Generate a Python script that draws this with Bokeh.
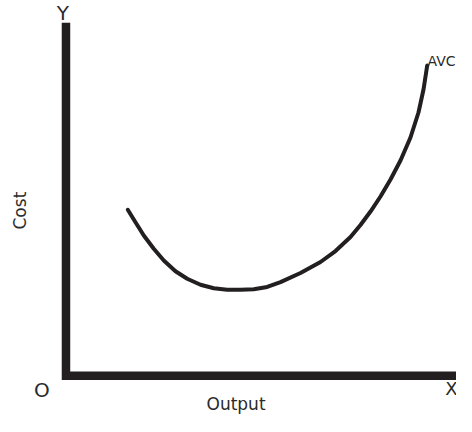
from bokeh.plotting import figure
from bokeh.models import Range1d, Label
from bokeh.embed import file_html
from bokeh.resources import INLINE
import math

# AVC curve (Output vs Cost)
output_vals = [1.585, 1.782, 1.995, 2.251, 2.508, 2.808, 3.108, 3.449, 3.790,
               4.133, 4.474, 4.815, 5.159, 5.500, 6.013, 6.526, 6.910, 7.295,
               7.551, 7.808, 8.064, 8.321, 8.577, 8.833, 9.038, 9.167, 9.262]
avc_vals = [4.703, 4.351, 3.974, 3.598, 3.266, 2.963, 2.748, 2.578, 2.482,
            2.436, 2.436, 2.453, 2.516, 2.652, 2.912, 3.224, 3.535, 3.932,
            4.272, 4.654, 5.079, 5.561, 6.099, 6.751, 7.459, 8.110, 8.790]

# axes frame (L-shape)
axis_x = [0, 0, 10.09]
axis_y = [10.0, 0, 0]

INK = "#231f20"
TXT = "#2b2b2b"
FONT = "DejaVu Sans"

p = figure(width=456, height=416, output_backend="svg", toolbar_location=None,
           x_range=Range1d(-1.679, 10.013), y_range=Range1d(-1.153, 10.632),
           min_border=0)
p.axis.visible = False
p.grid.visible = False
p.outline_line_color = None
p.background_fill_color = "white"
p.border_fill_color = "white"

p.line(axis_x, axis_y, line_width=8.5, line_color=INK, line_join="miter", line_cap="butt")
p.line(output_vals, avc_vals, line_width=4, line_color=INK, line_cap="round", line_join="round")

def lab(x, y, t, size="18px", align="center", angle=0.0):
    p.add_layout(Label(x=x, y=y, text=t, text_font=FONT, text_font_size=size,
                       text_color=TXT, text_align=align, text_baseline="middle",
                       angle=angle))

lab(-0.08, 10.28, "Y", size="20px")
lab(-0.62, -0.39, "O", size="20px")
lab(9.88, -0.37, "X")
lab(9.27, 8.93, "AVC", size="14px", align="left")
lab(-1.17, 4.68, "Cost", size="17px", angle=math.pi / 2)
lab(4.36, -0.81, "Output", size="17px")

open("out.html", "w").write(file_html(p, INLINE))
